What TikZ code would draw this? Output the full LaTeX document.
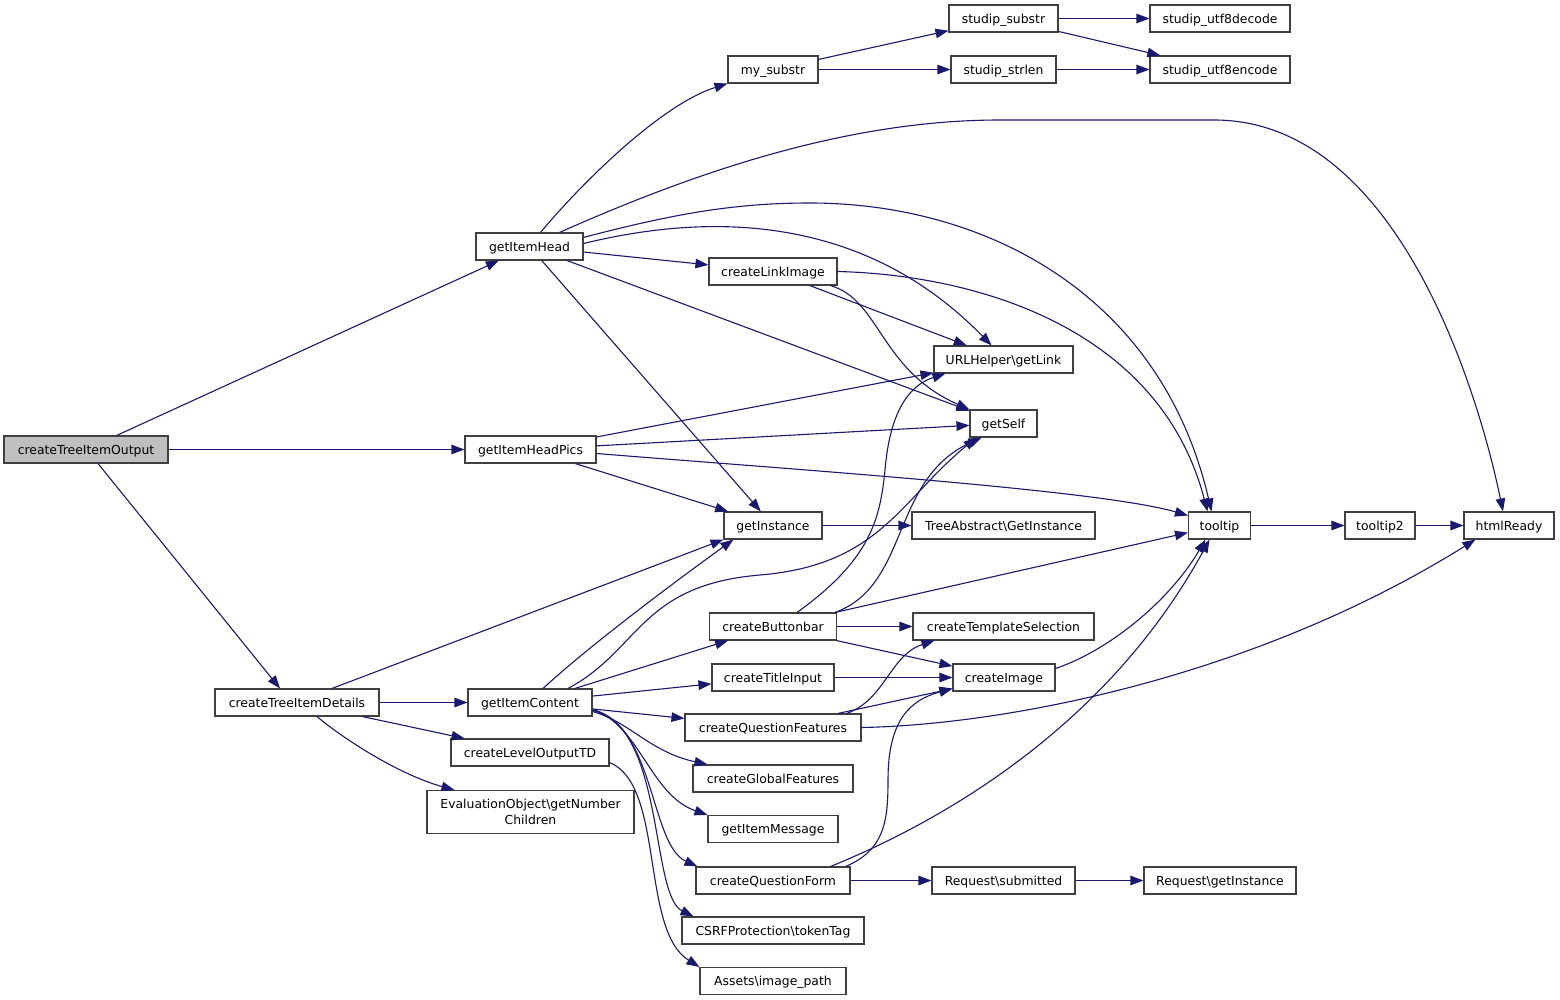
\documentclass[tikz,border=0pt]{standalone}
\usepackage{fontspec}
\setmainfont{DejaVu Sans}
\usetikzlibrary{arrows.meta,calc}
\definecolor{edgeblue}{HTML}{191970}
\definecolor{boxline}{HTML}{404040}
\definecolor{rootfill}{HTML}{BFBFBF}
\begin{document}
\begin{tikzpicture}[x=1pt,y=-1pt,
  basefn/.style={draw=boxline,line width=1.1pt,fill=white,minimum height=27pt,inner sep=0pt,
    font=\fontsize{12.4pt}{16pt}\selectfont,text=black},
  fn/.style={basefn,text height=10.6pt,text depth=1pt},
  rootfn/.style={fn,fill=rootfill},
  call/.style={draw=edgeblue,line width=1.1pt,-{Triangle[length=13pt,width=9.5pt]}}]
\useasboundingbox[fill=white] (0,0) rectangle (1560,1000);

% column 1
\node[rootfn,minimum width=164pt] (A) at (86,449.5) {createTreeItemOutput};
% column 2
\node[fn,minimum width=107pt] (GIH) at (529.5,246.5) {getItemHead};
\node[fn,minimum width=131pt] (GIHP) at (530.5,449.5) {getItemHeadPics};
\node[fn,minimum width=164pt] (CTID) at (297,702.5) {createTreeItemDetails};
\node[fn,minimum width=124pt] (GIC) at (530,702.5) {getItemContent};
\node[fn,minimum width=158pt] (CLOTD) at (530,752.5) {createLevelOutputTD};
\node[basefn,minimum width=207pt,minimum height=43pt,align=center] (EON) at (530.5,812) {EvaluationObject\textbackslash getNumber\\Children};
% column 3
\node[fn,minimum width=90pt] (MS) at (773,69.5) {my\_substr};
\node[fn,minimum width=128pt] (CLI) at (773,271.5) {createLinkImage};
\node[fn,minimum width=98pt] (GI) at (773,525.5) {getInstance};
\node[fn,minimum width=127pt] (CB) at (773,626.5) {createButtonbar};
\node[fn,minimum width=122pt] (CTI) at (773,677.5) {createTitleInput};
\node[fn,minimum width=176pt] (CQF) at (773,727.5) {createQuestionFeatures};
\node[fn,minimum width=160pt] (CGF) at (773,778.5) {createGlobalFeatures};
\node[fn,minimum width=130pt] (GIM) at (773,829) {getItemMessage};
\node[fn,minimum width=154pt] (CQFm) at (773,880.5) {createQuestionForm};
\node[fn,minimum width=182pt] (CSRF) at (773,930.5) {CSRFProtection\textbackslash tokenTag};
\node[fn,minimum width=146pt] (AIP) at (773,981) {Assets\textbackslash image\_path};
% column 4
\node[fn,minimum width=109pt] (SS) at (1003.5,18.5) {studip\_substr};
\node[fn,minimum width=105pt] (SL) at (1003.5,69.5) {studip\_strlen};
\node[fn,minimum width=139pt] (UH) at (1003.5,359.5) {URLHelper\textbackslash getLink};
\node[fn,minimum width=67pt] (GS) at (1003.5,423.5) {getSelf};
\node[fn,minimum width=183pt] (TA) at (1003.5,525.5) {TreeAbstract\textbackslash GetInstance};
\node[fn,minimum width=181pt] (CTS) at (1003.5,626.5) {createTemplateSelection};
\node[fn,minimum width=102pt] (CI) at (1004,677.5) {createImage};
\node[fn,minimum width=143pt] (RS) at (1003.5,880.5) {Request\textbackslash submitted};
% column 5
\node[fn,minimum width=140pt] (UD) at (1220,18.5) {studip\_utf8decode};
\node[fn,minimum width=140pt] (UE) at (1220,69.5) {studip\_utf8encode};
\node[fn,minimum width=62pt] (TT) at (1219.5,525.5) {tooltip};
\node[fn,minimum width=152pt] (RGI) at (1220,880.5) {Request\textbackslash getInstance};
% columns 6,7
\node[fn,minimum width=70pt] (TT2) at (1380,525.5) {tooltip2};
\node[fn,minimum width=90pt] (HR) at (1509,525.5) {htmlReady};

% createTreeItemOutput
\draw[call] (A) -- (GIH);
\draw[call] (A) -- (GIHP);
\draw[call] ($(A.south)+(12,0)$) -- ($(CTID.north)+(-17,0)$);

% getItemHead
\draw[call] ($(GIH.north)+(11,0)$) .. controls (580,185) and (660,105) .. (MS.south west);
\draw[call] ($(GIH.north)+(30,0)$) .. controls (700,170) and (850,120) .. (1000,120) -- (1214,120)
  .. controls (1400,120) and (1480,400) .. ($(HR.north)+(-6,0)$);
\draw[call] ($(GIH.north east)+(0,5)$) .. controls (680,212) and (740,203) .. (810,203)
  .. controls (980,203) and (1160,290) .. ($(TT.north)+(-8,0)$);
\draw[call] ($(GIH.east)+(0,-3)$) .. controls (680,220) and (850,200) .. ($(UH.north)+(-12,0)$);
\draw[call] (GIH) -- (CLI);
\draw[call] (GIH) -- (GS);
\draw[call] (GIH) -- (GI);

% createLinkImage
\draw[call] (CLI.east) .. controls (980,275) and (1160,330) .. ($(TT.north)+(-12,0)$);
\draw[call] (CLI) -- (UH);
\draw[call] ($(CLI.south east)+(-7,0)$) .. controls (880,300) and (880,370) .. (GS.north west);

% my_substr and string helpers
\draw[call] (MS) -- (SS);
\draw[call] (MS) -- (SL);
\draw[call] (SS) -- (UD);
\draw[call] (SS) -- (UE);
\draw[call] (SL) -- (UE);

% getItemHeadPics
\draw[call] (GIHP) -- (UH);
\draw[call] (GIHP) -- (GS);
\draw[call] ($(GIHP.east)+(0,4)$) .. controls (800,470) and (1100,490) .. ($(TT.west)+(0,-10)$);
\draw[call] (GIHP) -- (GI);

% getInstance, tooltip chain
\draw[call] (GI) -- (TA);
\draw[call] (TT) -- (TT2);
\draw[call] (TT2) -- (HR);

% createTreeItemDetails
\draw[call] ($(CTID.north)+(35,0)$) -- (GI.south west);
\draw[call] (CTID) -- (GIC);
\draw[call] (CTID) -- (CLOTD);
\draw[call] ($(CTID.south)+(20,0)$) .. controls (345,740) and (400,775) .. ($(EON.north west)+(28,0)$);

% getItemContent
\draw[call] ($(GIC.north)+(13,0)$) .. controls (590,645) and (680,578) .. ($(GI.south west)+(10,0)$);
\draw[call] ($(GIC.north)+(38,0)$) .. controls (640,650) and (640,585) .. (760,575)
  .. controls (880,565) and (900,500) .. ($(GS.south west)+(7,0)$);
\draw[call] (GIC) -- (CB);
\draw[call] (GIC) -- (CTI);
\draw[call] (GIC) -- (CQF);
\draw[call] ($(GIC.east)+(0,9)$) .. controls (630,722) and (650,752) .. ($(CGF.north west)+(15,0)$);
\draw[call] ($(GIC.east)+(0,7)$) .. controls (640,725) and (650,795) .. (GIM.north west);
\draw[call] ($(GIC.east)+(0,7)$) .. controls (655,725) and (650,845) .. ($(CQFm.north west)+(2,0)$);
\draw[call] ($(GIC.east)+(0,8)$) .. controls (665,725) and (650,895) .. ($(CSRF.north west)+(12,0)$);

% createLevelOutputTD
\draw[call] ($(CLOTD.east)+(0,10)$) .. controls (665,785) and (640,930) .. (AIP.north west);

% createButtonbar
\draw[call] (CB) -- (CTS);
\draw[call] (CB) -- (CI);
\draw[call] (CB) -- (TT);
\draw[call] ($(CB.north east)+(-2,0)$) .. controls (910,585) and (890,480) .. ($(GS.south west)+(12,0)$);
\draw[call] ($(CB.north)+(24,0)$) .. controls (870,560) and (880,520) .. (885,470)
  .. controls (890,410) and (910,385) .. ($(UH.south west)+(12,0)$);

% createTitleInput
\draw[call] (CTI) -- (CI);

% createQuestionFeatures
\draw[call] (CQF) -- (CI);
\draw[call] ($(CQF.north east)+(-15,0)$) .. controls (885,700) and (890,655) .. ($(CTS.south west)+(22,0)$);
\draw[call] (CQF.east) .. controls (1000,725) and (1250,680) .. ($(HR.south west)+(12,0)$);

% createImage
\draw[call] ($(CI.east)+(0,-9)$) .. controls (1110,650) and (1170,600) .. ($(TT.south)+(-14,0)$);

% createQuestionForm
\draw[call] (CQFm) -- (RS);
\draw[call] (RS) -- (RGI);
\draw[call] ($(CQFm.north east)+(-20,0)$) .. controls (920,830) and (1100,740) .. ($(TT.south)+(-10,0)$);
\draw[call] ($(CQFm.north east)+(-5,0)$) .. controls (885,850) and (888,820) .. (888,780)
  .. controls (888,720) and (910,700) .. ($(CI.south west)+(0,-3)$);
\end{tikzpicture}
\end{document}
